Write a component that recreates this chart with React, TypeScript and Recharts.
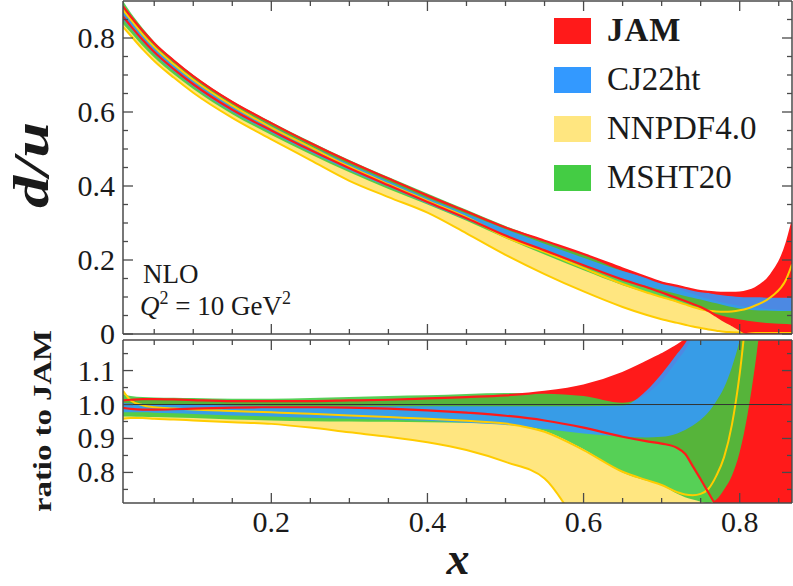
import React from "react";
import { ComposedChart, Area, Line, XAxis, YAxis, ReferenceLine, Legend } from "recharts";

// x grid shared by every band
const xs = [0.01, 0.02, 0.035, 0.05, 0.075, 0.1, 0.15, 0.2, 0.25, 0.3, 0.35, 0.4, 0.45, 0.5, 0.55, 0.6, 0.65, 0.68, 0.7, 0.72, 0.73, 0.74, 0.75, 0.76, 0.77, 0.78, 0.79, 0.8, 0.81, 0.82, 0.84, 0.86, 0.867];

// d/u bands [low, high]
const jamTop = [[0.858,0.886],[0.832,0.858],[0.795,0.82],[0.762,0.786],[0.716,0.739],[0.675,0.697],[0.606,0.627],[0.55,0.57],[0.497,0.516],[0.448,0.466],[0.402,0.42],[0.357,0.374],[0.313,0.331],[0.266,0.288],[0.226,0.252],[0.186,0.216],[0.147,0.177],[0.127,0.154],[0.112,0.139],[0.097,0.13],[0.089,0.125],[0.081,0.12],[0.073,0.116],[0.062,0.114],[0.049,0.112],[0.036,0.111],[0.024,0.111],[0.012,0.112],[0.002,0.116],[0,0.124],[0,0.16],[0,0.245],[0,0.3]];
const cjTop = [[0.85,0.88],[0.826,0.852],[0.789,0.813],[0.756,0.778],[0.71,0.731],[0.669,0.689],[0.6,0.619],[0.544,0.562],[0.491,0.508],[0.442,0.459],[0.397,0.413],[0.352,0.367],[0.309,0.325],[0.266,0.283],[0.226,0.244],[0.186,0.206],[0.148,0.17],[0.13,0.153],[0.119,0.141],[0.108,0.13],[0.103,0.125],[0.098,0.12],[0.093,0.115],[0.088,0.111],[0.083,0.107],[0.078,0.104],[0.073,0.102],[0.069,0.1],[0.066,0.099],[0.064,0.099],[0.063,0.098],[0.062,0.098],[0.062,0.098]];
const mshtTop = [[0.838,0.9],[0.815,0.868],[0.779,0.827],[0.747,0.79],[0.702,0.742],[0.662,0.7],[0.594,0.63],[0.538,0.573],[0.486,0.52],[0.437,0.47],[0.392,0.424],[0.35,0.38],[0.306,0.336],[0.259,0.292],[0.215,0.253],[0.172,0.214],[0.132,0.17],[0.112,0.149],[0.099,0.136],[0.086,0.122],[0.08,0.115],[0.073,0.108],[0.066,0.101],[0.06,0.095],[0.054,0.089],[0.048,0.084],[0.043,0.08],[0.039,0.076],[0.036,0.073],[0.033,0.071],[0.029,0.067],[0.027,0.064],[0.026,0.063]];
const nnTop = [[0.83,0.876],[0.806,0.85],[0.77,0.81],[0.738,0.776],[0.693,0.729],[0.652,0.687],[0.584,0.617],[0.526,0.558],[0.47,0.505],[0.414,0.452],[0.37,0.405],[0.328,0.36],[0.272,0.316],[0.214,0.262],[0.162,0.222],[0.115,0.178],[0.073,0.135],[0.052,0.113],[0.04,0.1],[0.03,0.087],[0.025,0.08],[0.02,0.073],[0.016,0.067],[0.012,0.063],[0.009,0.061],[0.006,0.06],[0.005,0.061],[0.004,0.064],[0.003,0.069],[0.003,0.077],[0.003,0.1],[0.003,0.15],[0.003,0.188]];

// ratio to JAM bands [low, high]
const jamRatio = [[0.99,1.012],[0.987,1.014],[0.985,1.016],[0.985,1.016],[0.986,1.015],[0.988,1.013],[0.991,1.01],[0.992,1.01],[0.992,1.01],[0.991,1.012],[0.988,1.014],[0.983,1.018],[0.976,1.022],[0.967,1.027],[0.953,1.037],[0.932,1.056],[0.905,1.093],[0.892,1.125],[0.885,1.148],[0.872,1.174],[0.855,1.19],[0.818,1.21],[0.78,1.24],[0.74,1.28],[0.7,1.34],[0.65,1.42],[0.6,1.5],[0.55,1.6],[0.5,1.7],[0.45,1.8],[0.4,2.0],[0.35,2.2],[0.33,2.3]];
const cjRatio = [[0.977,1.005],[0.977,1.003],[0.977,1.002],[0.976,1.001],[0.974,1.0],[0.972,0.999],[0.968,0.997],[0.965,0.996],[0.961,0.995],[0.958,0.995],[0.955,0.995],[0.952,0.995],[0.946,0.995],[0.94,0.995],[0.928,0.995],[0.915,0.995],[0.906,0.997],[0.903,1.04],[0.905,1.09],[0.915,1.15],[0.925,1.18],[0.938,1.22],[0.955,1.27],[0.978,1.33],[1.01,1.4],[1.05,1.5],[1.11,1.6],[1.19,1.7],[1.3,1.8],[1.4,1.9],[1.5,2.0],[1.6,2.1],[1.6,2.1]];
const mshtRatio = [[0.965,1.03],[0.965,1.025],[0.964,1.022],[0.963,1.021],[0.962,1.02],[0.96,1.019],[0.956,1.017],[0.953,1.017],[0.951,1.019],[0.95,1.022],[0.949,1.025],[0.948,1.027],[0.946,1.031],[0.942,1.034],[0.922,1.032],[0.868,1.025],[0.8,1.005],[0.776,1.03],[0.763,1.07],[0.737,1.13],[0.727,1.16],[0.72,1.2],[0.714,1.25],[0.71,1.3],[0.72,1.4],[0.75,1.5],[0.79,1.6],[0.86,1.7],[0.97,1.8],[1.12,1.9],[1.5,2.0],[1.7,2.1],[1.75,2.1]];
const nnRatio = [[0.958,1.04],[0.96,1.012],[0.96,0.998],[0.958,0.992],[0.956,0.988],[0.953,0.985],[0.948,0.981],[0.943,0.977],[0.932,0.973],[0.918,0.968],[0.905,0.963],[0.889,0.958],[0.866,0.952],[0.831,0.944],[0.782,0.92],[0.62,0.866],[0.46,0.802],[0.38,0.778],[0.33,0.763],[0.26,0.742],[0.23,0.735],[0.2,0.733],[0.17,0.737],[0.14,0.752],[0.12,0.79],[0.1,0.845],[0.08,0.94],[0.07,1.09],[0.06,1.3],[0.05,1.5],[0.05,1.9],[0.05,2.3],[0.05,2.4]];

// ticks
const xTicks = [0.05, 0.1, 0.15, 0.2, 0.25, 0.3, 0.35, 0.4, 0.45, 0.5, 0.55, 0.6, 0.65, 0.7, 0.75, 0.8, 0.85];
const xMajor = [0.2, 0.4, 0.6, 0.8];
const topYTicks = [0, 0.05, 0.1, 0.15, 0.2, 0.25, 0.3, 0.35, 0.4, 0.45, 0.5, 0.55, 0.6, 0.65, 0.7, 0.75, 0.8, 0.85];
const topYMajor = [0, 0.2, 0.4, 0.6, 0.8];
const ratioYTicks = [0.75, 0.8, 0.85, 0.9, 0.95, 1.0, 1.05, 1.1, 1.15];
const ratioYMajor = [0.8, 0.9, 1.0, 1.1];

const legendItems = [
  { name: "JAM", color: "#ff1a1a", bold: true },
  { name: "CJ22ht", color: "#3399ff", bold: false },
  { name: "NNPDF4.0", color: "#ffe680", bold: false },
  { name: "MSHT20", color: "#44cc44", bold: false },
];

const RED = "#ff1a1a";
const BLUE = "#3399ff";
const YELLOW = "#ffe680";
const GOLD = "#ffcc00";
const GREEN = "#3fc93f";
const AXIS = "#4a4a4a";
const INK = "#1a1a1a";
const FONT = "'Liberation Serif', 'DejaVu Serif', serif";

const buildRows = (bands: Record<string, number[][]>) =>
  xs.map((x, i) => {
    const row: any = { x };
    Object.keys(bands).forEach((k) => (row[k] = bands[k][i]));
    return row;
  });

const topRows = buildRows({ jam: jamTop, cj: cjTop, msht: mshtTop, nn: nnTop });
const ratioRows = buildRows({ jam: jamRatio, cj: cjRatio, msht: mshtRatio, nn: nnRatio });

const hit = (v: number, list: number[]) => list.some((m) => Math.abs(m - v) < 1e-9);
const fmt = (v: number) => (v === 0 ? "0" : v.toFixed(1));
const serif = (size: number, extra: React.CSSProperties = {}) => ({ fontFamily: FONT, fontSize: size, ...extra });

const xTick = (side: "bottom" | "top", labelled: boolean) => (props: any) => {
  const { x, y, payload } = props;
  const major = hit(payload.value, xMajor);
  const dir = side === "bottom" ? -1 : 1;
  return (
    <g>
      <line x1={x} x2={x} y1={y} y2={y + dir * (major ? 10 : 5)} stroke={AXIS} strokeWidth={1.3} />
      {labelled && major && (
        <text x={x} y={y + 29} textAnchor="middle" style={serif(30)} fill={INK}>
          {fmt(payload.value)}
        </text>
      )}
    </g>
  );
};

const yTick = (side: "left" | "right", majors: number[]) => (props: any) => {
  const { x, y, payload } = props;
  const major = hit(payload.value, majors);
  const dir = side === "left" ? 1 : -1;
  return (
    <g>
      <line x1={x} x2={x + dir * (major ? 10 : 5)} y1={y} y2={y} stroke={AXIS} strokeWidth={1.3} />
      {side === "left" && major && (
        <text x={x - 8} y={y + 10} textAnchor="end" style={serif(30)} fill={INK}>
          {fmt(payload.value)}
        </text>
      )}
    </g>
  );
};

const ids = { xAxisId: "b", yAxisId: "l" };

// fills first, then the NNPDF and JAM edge lines on top
const layers = () => [
  <Area key="nn" {...ids} dataKey="nn" type="monotone" fill={YELLOW} fillOpacity={1} stroke="none" activeDot={false} isAnimationActive={false} />,
  <Area key="jam" {...ids} dataKey="jam" type="monotone" fill={RED} fillOpacity={1} stroke="none" activeDot={false} isAnimationActive={false} />,
  <Area key="msht" {...ids} dataKey="msht" type="monotone" fill={GREEN} fillOpacity={0.88} stroke="none" activeDot={false} isAnimationActive={false} />,
  <Area key="cj" {...ids} dataKey="cj" type="monotone" fill={BLUE} fillOpacity={0.88} stroke="none" activeDot={false} isAnimationActive={false} />,
  <Line key="nnlo" {...ids} dataKey={(d: any) => d.nn[0]} type="monotone" stroke={GOLD} strokeWidth={2} dot={false} activeDot={false} isAnimationActive={false} />,
  <Line key="nnhi" {...ids} dataKey={(d: any) => d.nn[1]} type="monotone" stroke={GOLD} strokeWidth={2} dot={false} activeDot={false} isAnimationActive={false} />,
  <Line key="jamlo" {...ids} dataKey={(d: any) => d.jam[0]} type="monotone" stroke={RED} strokeWidth={2.2} dot={false} activeDot={false} isAnimationActive={false} />,
  <Line key="jamhi" {...ids} dataKey={(d: any) => d.jam[1]} type="monotone" stroke={RED} strokeWidth={2.2} dot={false} activeDot={false} isAnimationActive={false} />,
];

const axes = (yDomain: number[], yTicks: number[], yMajor: number[], topH: number, bottomH: number, xLabels: boolean) => [
  <XAxis key="xb" xAxisId="b" dataKey="x" type="number" domain={[0.01, 0.867]} allowDataOverflow ticks={xTicks} interval={0}
    tickSize={0} tickMargin={0} tickLine={false} tick={xTick("bottom", xLabels)} height={bottomH} axisLine={{ stroke: AXIS, strokeWidth: 1.5 }} />,
  <XAxis key="xt" xAxisId="t" orientation="top" dataKey="x" type="number" domain={[0.01, 0.867]} allowDataOverflow ticks={xTicks} interval={0}
    tickSize={0} tickMargin={0} tickLine={false} tick={xTick("top", false)} height={topH} axisLine={{ stroke: AXIS, strokeWidth: 1.5 }} />,
  <YAxis key="yl" yAxisId="l" type="number" domain={yDomain} allowDataOverflow ticks={yTicks} interval={0}
    tickSize={0} tickMargin={0} tickLine={false} tick={yTick("left", yMajor)} width={123} axisLine={{ stroke: AXIS, strokeWidth: 1.5 }} />,
  <YAxis key="yr" yAxisId="r" orientation="right" type="number" domain={yDomain} allowDataOverflow ticks={yTicks} interval={0}
    tickSize={0} tickMargin={0} tickLine={false} tick={yTick("right", yMajor)} width={1} axisLine={{ stroke: AXIS, strokeWidth: 1.5 }} />,
];

const renderLegend = () => (
  <div style={{ fontFamily: FONT, fontSize: 33, color: INK }}>
    {legendItems.map((it) => (
      <div key={it.name} style={{ display: "flex", alignItems: "center", height: 49 }}>
        <span style={{ display: "inline-block", width: 37, height: 26, background: it.color, marginRight: 16 }} />
        <span style={{ fontWeight: it.bold ? "bold" : "normal", letterSpacing: it.bold ? 1 : 0 }}>{it.name}</span>
      </div>
    ))}
  </div>
);

export default function App() {
  return (
    <div style={{ position: "absolute", left: 0, top: 0, width: 793, height: 586, background: "#fff", overflow: "hidden" }}>
      <div style={{ position: "absolute", left: 0, top: 0 }}>
        <ComposedChart width={793} height={352} data={topRows} margin={{ top: 0, right: 0, bottom: 0, left: 0 }}>
          {layers()}
          {axes([0, 0.9], topYTicks, topYMajor, 1, 18, false)}
          <Legend layout="horizontal" verticalAlign="middle" align="center" content={renderLegend}
            wrapperStyle={{ position: "absolute", left: 554, top: 6, width: 239, height: 200 }} />
        </ComposedChart>
      </div>
      <div style={{ position: "absolute", left: 0, top: 330 }}>
        <ComposedChart width={793} height={256} data={ratioRows} margin={{ top: 0, right: 0, bottom: 0, left: 0 }}>
          {layers()}
          <ReferenceLine xAxisId="b" yAxisId="l" y={1} stroke="#333" strokeWidth={1} />
          {axes([0.71, 1.19], ratioYTicks, ratioYMajor, 10, 83, true)}
        </ComposedChart>
      </div>
      <svg width={793} height={586} style={{ position: "absolute", left: 0, top: 0, pointerEvents: "none" }}>
        <text transform="translate(48,165) rotate(-90)" textAnchor="middle" fill={INK} textLength={86} lengthAdjust="spacingAndGlyphs"
          style={serif(50, { fontWeight: "bold", fontStyle: "italic" })}>d/u</text>
        <text transform="translate(51,421) rotate(-90)" textAnchor="middle" fill={INK} textLength={182} lengthAdjust="spacingAndGlyphs"
          style={serif(26, { fontWeight: "bold" })}>ratio to JAM</text>
        <text x={458} y={574} textAnchor="middle" fill={INK} style={serif(46, { fontWeight: "bold", fontStyle: "italic" })}>x</text>
        <text x={143} y={283} fill={INK} style={serif(27)}>NLO</text>
        <text x={140} y={315} fill={INK} style={serif(27)}>
          <tspan style={{ fontStyle: "italic" }}>Q</tspan>
          <tspan dy={-11} style={{ fontSize: 18 }}>2</tspan>
          <tspan dy={11}> = 10 GeV</tspan>
          <tspan dy={-11} style={{ fontSize: 18 }}>2</tspan>
        </text>
      </svg>
    </div>
  );
}
